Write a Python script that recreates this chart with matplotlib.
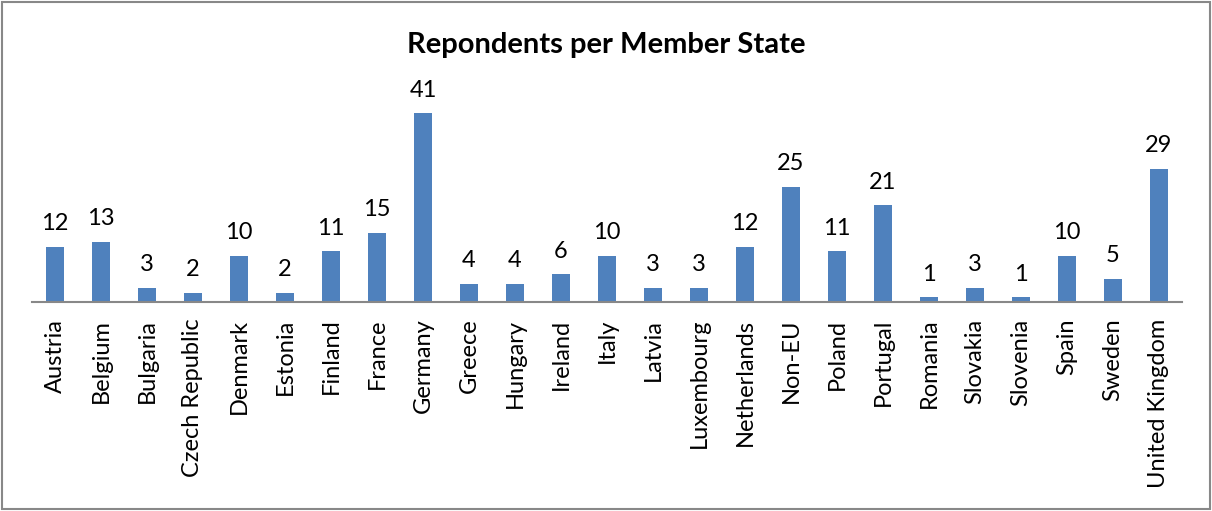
import matplotlib.pyplot as plt
from matplotlib.patches import Rectangle

countries = ['Austria', 'Belgium', 'Bulgaria', 'Czech Republic', 'Denmark', 'Estonia',
             'Finland', 'France', 'Germany', 'Greece', 'Hungary', 'Ireland', 'Italy',
             'Latvia', 'Luxembourg', 'Netherlands', 'Non-EU', 'Poland', 'Portugal',
             'Romania', 'Slovakia', 'Slovenia', 'Spain', 'Sweden', 'United Kingdom']
respondents = [12, 13, 3, 2, 10, 2, 11, 15, 41, 4, 4, 6, 10, 3, 3, 12, 25, 11, 21,
               1, 3, 1, 10, 5, 29]

plt.rcParams['font.family'] = ['Lato', 'DejaVu Sans']

fig = plt.figure(figsize=(12.12, 5.11), dpi=100)
ax = fig.add_axes([0.0264, 0.409, 0.9488, 0.405])

xs = range(len(countries))
ax.bar(xs, respondents, width=0.4, color='#4F81BD')
for x, v in zip(xs, respondents):
    ax.text(x, v + 2.8, str(v), ha='center', va='bottom', fontsize=17)

ax.set_xlim(-0.5, len(countries) - 0.5)
ax.set_ylim(0, 45)
ax.set_xticks(list(xs))
ax.set_xticklabels(countries, rotation=90, fontsize=17)
ax.tick_params(axis='x', length=0, pad=12)
ax.set_yticks([])
for s in ['top', 'right', 'left']:
    ax.spines[s].set_visible(False)
ax.spines['bottom'].set_color('#888888')
ax.spines['bottom'].set_linewidth(1.5)

fig.text(0.5, 0.912, 'Repondents per Member State', ha='center', va='center',
         fontsize=21, fontweight='bold')
fig.patches.append(Rectangle((0.002, 0.003), 0.996, 0.994, transform=fig.transFigure,
                             fill=False, edgecolor='#888888', linewidth=1.5))

fig.savefig('out.png', dpi=100)
